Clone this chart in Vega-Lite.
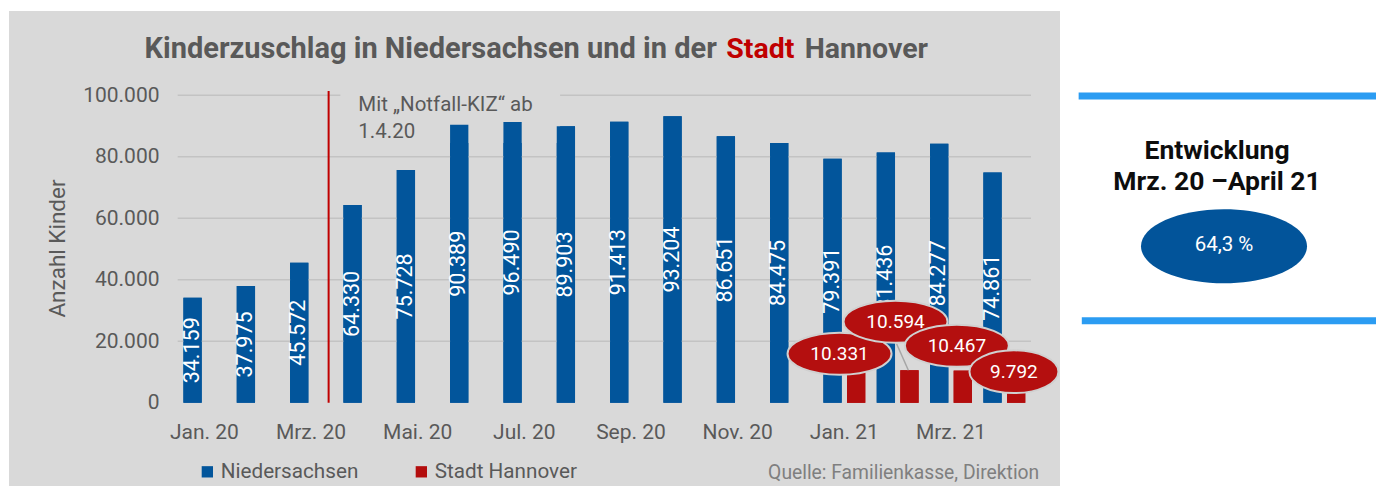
{
  "$schema": "https://vega.github.io/schema/vega-lite/v6.json",
  "background": "white",
  "padding": {"left": 9, "top": 11, "right": 0, "bottom": 0},
  "spacing": 0,
  "bounds": "flush",
  "config": {
    "font": "Roboto",
    "view": {"stroke": null},
    "locale": {"number": {"decimal": ",", "thousands": ".", "grouping": [3], "currency": ["", " €"]}}
  },
  "datasets": {
    "bars": [
      {"month": "Jan. 20", "series": "Niedersachsen", "value": 34159, "label": "34.159"},
      {"month": "Feb. 20", "series": "Niedersachsen", "value": 37975, "label": "37.975"},
      {"month": "Mrz. 20", "series": "Niedersachsen", "value": 45572, "label": "45.572"},
      {"month": "Apr. 20", "series": "Niedersachsen", "value": 64330, "label": "64.330"},
      {"month": "Mai. 20", "series": "Niedersachsen", "value": 75728, "label": "75.728"},
      {"month": "Jun. 20", "series": "Niedersachsen", "value": 90389, "label": "90.389"},
      {"month": "Jul. 20", "series": "Niedersachsen", "value": 91300, "label": "96.490"},
      {"month": "Aug. 20", "series": "Niedersachsen", "value": 89903, "label": "89.903"},
      {"month": "Sep. 20", "series": "Niedersachsen", "value": 91413, "label": "91.413"},
      {"month": "Okt. 20", "series": "Niedersachsen", "value": 93204, "label": "93.204"},
      {"month": "Nov. 20", "series": "Niedersachsen", "value": 86651, "label": "86.651"},
      {"month": "Dez. 20", "series": "Niedersachsen", "value": 84475, "label": "84.475"},
      {"month": "Jan. 21", "series": "Niedersachsen", "value": 79391, "label": "79.391"},
      {"month": "Feb. 21", "series": "Niedersachsen", "value": 81436, "label": "81.436"},
      {"month": "Mrz. 21", "series": "Niedersachsen", "value": 84277, "label": "84.277"},
      {"month": "Apr. 21", "series": "Niedersachsen", "value": 74861, "label": "74.861"},
      {"month": "Jan. 21", "series": "Stadt Hannover", "value": 10331, "label": "10.331"},
      {"month": "Feb. 21", "series": "Stadt Hannover", "value": 10594, "label": "10.594"},
      {"month": "Mrz. 21", "series": "Stadt Hannover", "value": 10467, "label": "10.467"},
      {"month": "Apr. 21", "series": "Stadt Hannover", "value": 9792, "label": "9.792"}
    ],
    "grid": [{"v": 20000}, {"v": 40000}, {"v": 60000}, {"v": 80000}, {"v": 100000}],
    "one": [{"k": 1}]
  },
  "hconcat": [
    {
      "width": 1051,
      "height": 475,
      "view": {"fill": "#d9d9d9", "stroke": null},
      "resolve": {"scale": {"y": "independent"}},
      "layer": [
        {
          "layer": [
            {
              "data": {"name": "bars"},
              "mark": {"type": "bar"},
              "encoding": {
                "x": {"field": "month", "type": "nominal", "sort": null,
                  "scale": {"type": "band", "domain": ["Jan. 20","Feb. 20","Mrz. 20","Apr. 20","Mai. 20","Jun. 20","Jul. 20","Aug. 20","Sep. 20","Okt. 20","Nov. 20","Dez. 20","Jan. 21","Feb. 21","Mrz. 21","Apr. 21"], "range": [168.7, 1022], "paddingInner": 0, "paddingOuter": 0},
                  "axis": {"values": ["Jan. 20","Mrz. 20","Mai. 20","Jul. 20","Sep. 20","Nov. 20","Jan. 21","Mrz. 21"], "bandPosition": 0.5, "domain": false, "ticks": false, "tickSize": 0, "grid": false, "labelPadding": 35, "labelBaseline": "alphabetic", "offset": -83, "labelFontSize": 21, "labelColor": "#595959", "labelAngle": 0, "title": null}},
                "xOffset": {"field": "series", "type": "nominal", "scale": {"domain": ["Niedersachsen", "Stadt Hannover"], "paddingInner": 0.225, "paddingOuter": 0.2425}},
                "y": {"field": "value", "type": "quantitative", "stack": null,
                  "scale": {"domain": [-27057, 127415], "nice": false, "zero": false},
                  "axis": {"values": [0, 20000, 40000, 60000, 80000, 100000], "format": ",d", "domain": false, "ticks": false, "tickSize": 0, "grid": false, "labelPadding": 0, "offset": -150, "labelFontSize": 21, "labelColor": "#595959", "title": "Anzahl Kinder", "titleFontSize": 22.5, "titleColor": "#595959", "titleFontWeight": "normal", "titleX": -102, "titleY": 237, "titleAngle": 270, "titleAlign": "center", "titleBaseline": "middle"}},
                "color": {"field": "series", "type": "nominal",
                  "scale": {"domain": ["Niedersachsen", "Stadt Hannover"], "range": ["#02559b", "#b30d0d"]},
                  "legend": {"orient": "none", "legendX": 188, "legendY": 450, "direction": "horizontal", "title": null, "symbolType": "square", "symbolSize": 128, "symbolStrokeWidth": 0, "labelFontSize": 20.7, "labelColor": "#595959", "labelOffset": 3, "columnPadding": 52, "padding": 0, "labelLimit": 300}}
              }
            },
            {
              "data": {"name": "grid"},
              "mark": {"type": "rule", "color": "#c3c3c3", "strokeWidth": 1.5},
              "encoding": {
                "x": {"datum": "Jan. 20", "type": "nominal", "bandPosition": 0},
                "x2": {"datum": "Apr. 21", "bandPosition": 1},
                "y": {"field": "v", "type": "quantitative"}
              }
            },
            {
              "data": {"name": "one"},
              "mark": {"type": "rect", "color": "#d9d9d9"},
              "encoding": {
                "x": {"datum": "Apr. 20", "type": "nominal", "bandPosition": 0.05},
                "x2": {"datum": "Aug. 20", "bandPosition": 0.17},
                "y": {"datum": 101800, "type": "quantitative"},
                "y2": {"datum": 84500}
              }
            },
            {
              "data": {"name": "one"},
              "mark": {"type": "text", "align": "left", "baseline": "alphabetic", "fontSize": 20.5, "color": "#595959"},
              "encoding": {
                "x": {"datum": "Apr. 20", "type": "nominal", "bandPosition": 0.386},
                "y": {"datum": 94992, "type": "quantitative"},
                "text": {"value": "Mit „Notfall-KIZ“ ab"}
              }
            },
            {
              "data": {"name": "one"},
              "mark": {"type": "text", "align": "left", "baseline": "alphabetic", "fontSize": 20.5, "color": "#595959"},
              "encoding": {
                "x": {"datum": "Apr. 20", "type": "nominal", "bandPosition": 0.386},
                "y": {"datum": 86016, "type": "quantitative"},
                "text": {"value": "1.4.20"}
              }
            },
            {
              "data": {"name": "one"},
              "mark": {"type": "rule", "color": "#c00000", "strokeWidth": 2},
              "encoding": {
                "x": {"datum": "Mrz. 20", "type": "nominal", "bandPosition": 0.83},
                "y": {"datum": 0, "type": "quantitative"},
                "y2": {"datum": 101400}
              }
            },
            {
              "data": {"name": "bars"},
              "mark": {"type": "bar"},
              "encoding": {
                "x": {"field": "month", "type": "nominal"},
                "xOffset": {"field": "series", "type": "nominal"},
                "y": {"field": "value", "type": "quantitative", "stack": null},
                "color": {"field": "series", "type": "nominal"}
              }
            }
          ]
        },
        {
          "data": {"name": "bars"},
          "transform": [{"filter": "datum.series == 'Niedersachsen'"}],
          "mark": {"type": "text", "angle": 270, "align": "center", "baseline": "middle", "color": "white", "fontSize": 21.5},
          "encoding": {
            "x": {"field": "month", "type": "nominal"},
            "xOffset": {"field": "series", "type": "nominal", "scale": {"domain": ["Niedersachsen", "Stadt Hannover"], "paddingInner": 0.225, "paddingOuter": 0.2425}},
            "y": {"field": "value", "type": "quantitative", "scale": {"domain": [-54114, 254830], "nice": false, "zero": false}, "axis": null},
            "text": {"field": "label"}
          }
        },
        {
          "layer": [
            {
              "data": {"name": "one"},
              "mark": {"type": "rule", "color": "#a6a6a6", "strokeWidth": 1.5},
              "encoding": {
                "x": {"datum": "Feb. 21", "type": "nominal", "bandPosition": 0.48},
                "x2": {"datum": "Feb. 21", "bandPosition": 0.7},
                "y": {"datum": 19190, "type": "quantitative", "scale": {"domain": [-27057, 127415], "nice": false, "zero": false}, "axis": null},
                "y2": {"datum": 10600}
              }
            },
            {
              "data": {"name": "bars"},
              "transform": [{"filter": "datum.series == 'Stadt Hannover' && datum.month == 'Jan. 21'"}],
              "encoding": {
                "x": {"field": "month", "type": "nominal", "bandPosition": 0.41},
                "y": {"datum": 15935, "type": "quantitative", "axis": null}
              },
              "layer": [
                {"mark": {"type": "point", "shape": "M1,0C1,0.2231,0.5523,0.404,0,0.404C-0.5523,0.404,-1,0.2231,-1,0C-1,-0.2231,-0.5523,-0.404,0,-0.404C0.5523,-0.404,1,-0.2231,1,0Z", "size": 10816, "filled": true, "fill": "#b40f0f", "stroke": "#d0d0d0", "strokeWidth": 2, "opacity": 1}},
                {"mark": {"type": "text", "fontSize": 19, "color": "white", "baseline": "middle"}, "encoding": {"text": {"field": "label"}}}
              ]
            },
            {
              "data": {"name": "bars"},
              "transform": [{"filter": "datum.series == 'Stadt Hannover' && datum.month == 'Feb. 21'"}],
              "encoding": {
                "x": {"field": "month", "type": "nominal", "bandPosition": 0.46},
                "y": {"datum": 26341, "type": "quantitative", "axis": null}
              },
              "layer": [
                {"mark": {"type": "point", "shape": "M1,0C1,0.2231,0.5523,0.404,0,0.404C-0.5523,0.404,-1,0.2231,-1,0C-1,-0.2231,-0.5523,-0.404,0,-0.404C0.5523,-0.404,1,-0.2231,1,0Z", "size": 10816, "filled": true, "fill": "#b40f0f", "stroke": "#d0d0d0", "strokeWidth": 2, "opacity": 1}},
                {"mark": {"type": "text", "fontSize": 19, "color": "white", "baseline": "middle"}, "encoding": {"text": {"field": "label"}}}
              ]
            },
            {
              "data": {"name": "bars"},
              "transform": [{"filter": "datum.series == 'Stadt Hannover' && datum.month == 'Mrz. 21'"}],
              "encoding": {
                "x": {"field": "month", "type": "nominal", "bandPosition": 0.61},
                "y": {"datum": 18537, "type": "quantitative", "axis": null}
              },
              "layer": [
                {"mark": {"type": "point", "shape": "M1,0C1,0.2231,0.5523,0.404,0,0.404C-0.5523,0.404,-1,0.2231,-1,0C-1,-0.2231,-0.5523,-0.404,0,-0.404C0.5523,-0.404,1,-0.2231,1,0Z", "size": 10816, "filled": true, "fill": "#b40f0f", "stroke": "#d0d0d0", "strokeWidth": 2, "opacity": 1}},
                {"mark": {"type": "text", "fontSize": 19, "color": "white", "baseline": "middle"}, "encoding": {"text": {"field": "label"}}}
              ]
            },
            {
              "data": {"name": "bars"},
              "transform": [{"filter": "datum.series == 'Stadt Hannover' && datum.month == 'Apr. 21'"}],
              "encoding": {
                "x": {"field": "month", "type": "nominal", "bandPosition": 0.68},
                "y": {"datum": 10114, "type": "quantitative", "axis": null}
              },
              "layer": [
                {"mark": {"type": "point", "shape": "M1,0C1,0.2651,0.5523,0.48,0,0.48C-0.5523,0.48,-1,0.2651,-1,0C-1,-0.2651,-0.5523,-0.48,0,-0.48C0.5523,-0.48,1,-0.2651,1,0Z", "size": 7921, "filled": true, "fill": "#b40f0f", "stroke": "#d0d0d0", "strokeWidth": 2, "opacity": 1}},
                {"mark": {"type": "text", "fontSize": 19, "color": "white", "baseline": "middle"}, "encoding": {"text": {"field": "label"}}}
              ]
            },
            {
              "data": {"name": "one"},
              "mark": {"type": "text", "align": "right", "baseline": "alphabetic", "fontSize": 29, "fontWeight": "bold", "color": "#595959"},
              "encoding": {
                "x": {"datum": "Nov. 20", "type": "nominal", "bandPosition": 0.109},
                "y": {"datum": 112130, "type": "quantitative", "axis": null},
                "text": {"value": "Kinderzuschlag in Niedersachsen und in der"}
              }
            },
            {
              "data": {"name": "one"},
              "mark": {"type": "text", "align": "left", "baseline": "alphabetic", "fontSize": 28.5, "fontWeight": "bold", "color": "#c00000"},
              "encoding": {
                "x": {"datum": "Nov. 20", "type": "nominal", "bandPosition": 0.285},
                "y": {"datum": 112130, "type": "quantitative", "axis": null},
                "text": {"value": "Stadt"}
              }
            },
            {
              "data": {"name": "one"},
              "mark": {"type": "text", "align": "left", "baseline": "alphabetic", "fontSize": 28.5, "fontWeight": "bold", "color": "#595959"},
              "encoding": {
                "x": {"datum": "Dez. 20", "type": "nominal", "bandPosition": 0.757},
                "y": {"datum": 112130, "type": "quantitative", "axis": null},
                "text": {"value": "Hannover"}
              }
            },
            {
              "data": {"name": "one"},
              "mark": {"type": "text", "align": "right", "baseline": "alphabetic", "fontSize": 19.3, "color": "#7f7f7f"},
              "encoding": {
                "x": {"datum": "Apr. 21", "type": "nominal", "bandPosition": 1.155},
                "y": {"datum": -24650, "type": "quantitative", "axis": null},
                "text": {"value": "Quelle: Familienkasse, Direktion"}
              }
            }
          ]
        }
      ]
    },
    {
      "width": 316,
      "height": 475,
      "data": {"name": "one"},
      "layer": [
        {
          "mark": {"type": "rule", "color": "#2b9cf2", "strokeWidth": 7},
          "encoding": {
            "x": {"datum": 5.9, "type": "quantitative", "scale": {"domain": [0, 100], "nice": false, "zero": false}, "axis": null},
            "x2": {"datum": 100},
            "y": {"datum": 82.1, "type": "quantitative", "scale": {"domain": [0, 100], "nice": false, "zero": false}, "axis": null}
          }
        },
        {
          "mark": {"type": "rule", "color": "#2b9cf2", "strokeWidth": 7},
          "encoding": {
            "x": {"datum": 6.9, "type": "quantitative"},
            "x2": {"datum": 100},
            "y": {"datum": 34.8, "type": "quantitative"}
          }
        },
        {
          "mark": {"type": "text", "align": "center", "baseline": "alphabetic", "fontSize": 26.5, "fontWeight": "bold", "color": "#0d0d0d"},
          "encoding": {
            "x": {"datum": 49.7, "type": "quantitative"},
            "y": {"datum": 68.78, "type": "quantitative"},
            "text": {"value": "Entwicklung"}
          }
        },
        {
          "mark": {"type": "text", "align": "center", "baseline": "alphabetic", "fontSize": 26.5, "fontWeight": "bold", "color": "#0d0d0d"},
          "encoding": {
            "x": {"datum": 49.7, "type": "quantitative"},
            "y": {"datum": 62.3, "type": "quantitative"},
            "text": {"value": "Mrz. 20 –April 21"}
          }
        },
        {
          "mark": {"type": "point", "shape": "M1,0C1,0.2463,0.5523,0.446,0,0.446C-0.5523,0.446,-1,0.2463,-1,0C-1,-0.2463,-0.5523,-0.446,0,-0.446C0.5523,-0.446,1,-0.2463,1,0Z", "size": 27556, "filled": true, "fill": "#02549a", "strokeWidth": 0, "opacity": 1},
          "encoding": {
            "x": {"datum": 51.9, "type": "quantitative"},
            "y": {"datum": 50.46, "type": "quantitative"}
          }
        },
        {
          "mark": {"type": "text", "align": "center", "baseline": "alphabetic", "fontSize": 20.5, "color": "white"},
          "encoding": {
            "x": {"datum": 51.9, "type": "quantitative"},
            "y": {"datum": 49.47, "type": "quantitative"},
            "text": {"value": "64,3 %"}
          }
        }
      ]
    }
  ]
}
